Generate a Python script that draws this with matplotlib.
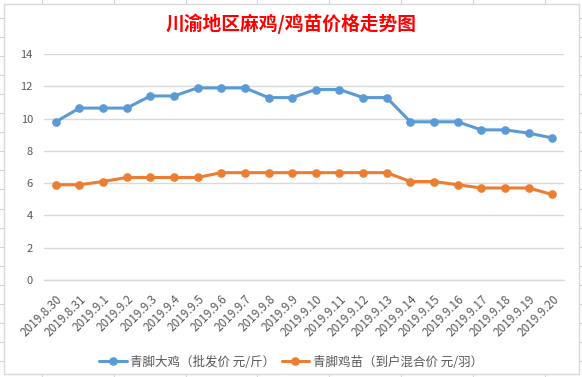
import matplotlib
matplotlib.use("Agg")
import matplotlib.pyplot as plt
from matplotlib.lines import Line2D
from matplotlib.patches import Rectangle

plt.rcParams['font.family'] = ['Noto Sans CJK SC', 'DejaVu Sans']

dates = ["2019.8.30", "2019.8.31", "2019.9.1", "2019.9.2", "2019.9.3", "2019.9.4",
         "2019.9.5", "2019.9.6", "2019.9.7", "2019.9.8", "2019.9.9", "2019.9.10",
         "2019.9.11", "2019.9.12", "2019.9.13", "2019.9.14", "2019.9.15", "2019.9.16",
         "2019.9.17", "2019.9.18", "2019.9.19", "2019.9.20"]
broiler = [9.8, 10.65, 10.65, 10.65, 11.4, 11.4, 11.9, 11.9, 11.9, 11.3, 11.3, 11.8,
           11.8, 11.3, 11.3, 9.8, 9.8, 9.8, 9.3, 9.3, 9.1, 8.8]
chick = [5.9, 5.9, 6.1, 6.35, 6.35, 6.35, 6.35, 6.65, 6.65, 6.65, 6.65, 6.65,
         6.65, 6.65, 6.65, 6.1, 6.1, 5.9, 5.7, 5.7, 5.7, 5.3]
series_names = ["青脚大鸡（批发价 元/斤）", "青脚鸡苗（到户混合价 元/羽）"]
y_ticks = [0, 2, 4, 6, 8, 10, 12, 14]
title = "川渝地区麻鸡/鸡苗价格走势图"

W, H = 582, 377
fig = plt.figure(figsize=(W / 100, H / 100), dpi=100)
fig.patch.set_facecolor("white")

def fx(x):
    return x / W

def fy(y):
    return 1 - y / H

# spreadsheet grid in background
gcol = "#D4D4D4"
x0 = 41.7
while x0 < W:
    fig.add_artist(Line2D([fx(x0), fx(x0)], [0, 1], color=gcol, lw=0.8, zorder=0))
    x0 += 71.9
y0 = 18.3
while y0 < H:
    fig.add_artist(Line2D([0, 1], [fy(y0), fy(y0)], color=gcol, lw=0.8, zorder=0))
    y0 += 19.02
# chart area
fig.add_artist(Rectangle((fx(3.5), fy(373.7)), fx(579.3 - 3.5), (373.7 - 3.5) / H,
                         facecolor="white", edgecolor="#D9D9D9", lw=1.0, zorder=0.5))

ax = fig.add_axes([fx(44), fy(280), fx(564 - 44), (280 - 54) / H])
ax.set_zorder(2)
ax.set_facecolor("none")
x = list(range(len(dates)))
ax.plot(x, broiler, color="#5B9BD5", lw=2.2, marker="o", markersize=5.2,
        label=series_names[0], solid_capstyle="round", zorder=3)
ax.plot(x, chick, color="#ED7D31", lw=2.2, marker="o", markersize=5.2,
        label=series_names[1], solid_capstyle="round", zorder=3)

ax.set_xlim(-0.5, len(dates) - 0.5)
ax.set_ylim(0, 14)
ax.set_yticks(y_ticks)
ax.set_yticklabels([str(v) for v in y_ticks])
ax.set_xticks(x)
ax.set_xticklabels(dates, rotation=45, ha="right", va="top", rotation_mode="anchor")
ax.tick_params(axis="both", length=0, colors="#595959", labelsize=8)
ax.tick_params(axis="x", labelsize=8.5, pad=9)
ax.tick_params(axis="y", pad=8)
ax.grid(axis="y", color="#D9D9D9", lw=1.0)
ax.set_axisbelow(True)
for s in ["top", "right", "left"]:
    ax.spines[s].set_visible(False)
ax.spines["bottom"].set_color("#D9D9D9")
ax.spines["bottom"].set_linewidth(1.0)

fig.text(0.5, fy(24), title, color="#FF0000", fontsize=13.5, fontweight="bold",
         ha="center", va="center", zorder=3)

leg = fig.legend(loc="center", bbox_to_anchor=(0.5, fy(362)), ncol=2, frameon=False,
                 fontsize=9, handlelength=2.2, columnspacing=0.5, handletextpad=0.3,
                 labelcolor="#595959")
leg.set_zorder(3)

fig.savefig("out.png", dpi=100)
